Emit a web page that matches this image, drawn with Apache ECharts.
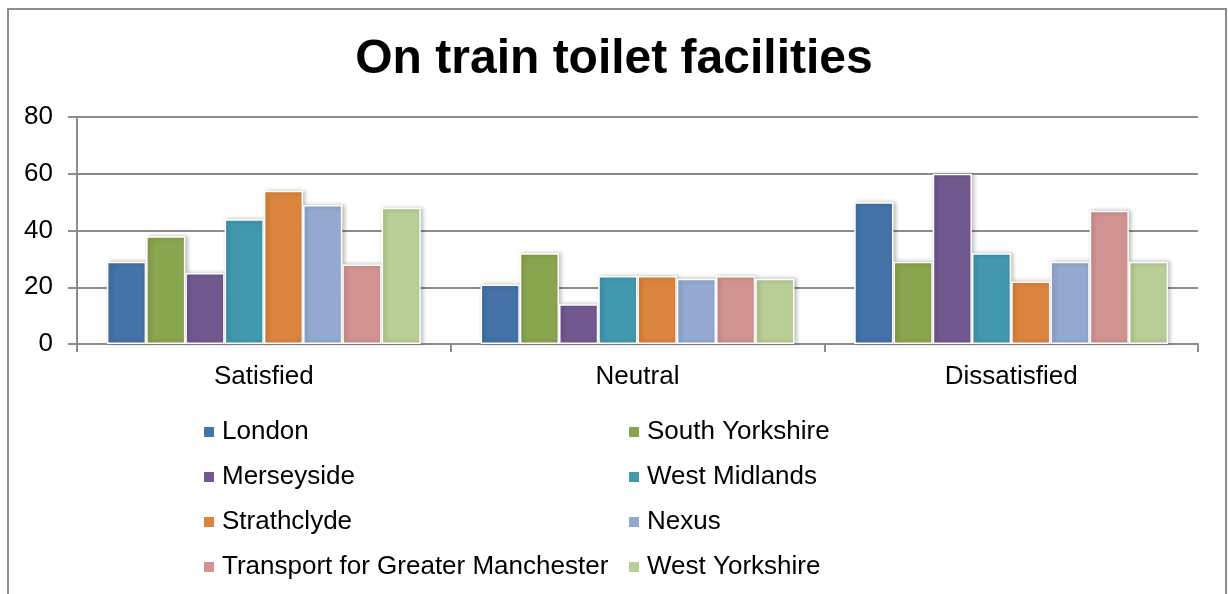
<!DOCTYPE html>
<html>
<head>
<meta charset="utf-8">
<title>On train toilet facilities</title>
<script src="https://cdn.jsdelivr.net/npm/echarts@6/dist/echarts.min.js"></script>
<style>
  html, body { margin: 0; padding: 0; background: #fff; overflow: hidden; }
  #chart { width: 1228px; height: 594px; }
</style>
</head>
<body>
<div id="chart"></div>
<script>
// categories on the x axis
const categories = ['Satisfied', 'Neutral', 'Dissatisfied']

// one array per area, values for Satisfied / Neutral / Dissatisfied
const london = [29, 21, 50]
const southYorkshire = [38, 32, 29]
const merseyside = [25, 14, 60]
const westMidlands = [44, 24, 32]
const strathclyde = [54, 24, 22]
const nexus = [49, 23, 29]
const greaterManchester = [28, 24, 47]
const westYorkshire = [48, 23, 29]

const yTicks = { min: 0, max: 80, interval: 20 }

const seriesList = [
  { name: 'London', data: london, color: '#4572a7' },
  { name: 'South Yorkshire', data: southYorkshire, color: '#89a54e' },
  { name: 'Merseyside', data: merseyside, color: '#71588f' },
  { name: 'West Midlands', data: westMidlands, color: '#4198af' },
  { name: 'Strathclyde', data: strathclyde, color: '#db843d' },
  { name: 'Nexus', data: nexus, color: '#93a9cf' },
  { name: 'Transport for Greater Manchester', data: greaterManchester, color: '#d19392' },
  { name: 'West Yorkshire', data: westYorkshire, color: '#b9cd96' }
]

const font = '"Liberation Sans", Arial, sans-serif'
const axisGrey = '#8c8c8c'

const chart = echarts.init(document.getElementById('chart'))

const series = seriesList.map(s => ({
  name: s.name,
  type: 'bar',
  data: s.data,
  barGap: '0%',
  barCategoryGap: '16%',
  itemStyle: {
    color: s.color,
    borderColor: '#fff',
    borderWidth: 1.5,
    shadowBlur: 4,
    shadowColor: 'rgba(0,0,0,0.25)',
    shadowOffsetX: 2,
    shadowOffsetY: 0
  }
}))

const legendText = { fontFamily: font, fontSize: 26, color: '#000', padding: [0, 0, 0, 2] }

const option = {
  animation: false,
  backgroundColor: '#fff',
  graphic: [{
    type: 'rect',
    silent: true,
    shape: { x: 8, y: 9, width: 1218, height: 700 },
    style: { fill: 'none', stroke: axisGrey, lineWidth: 2 }
  }],
  title: {
    text: 'On train toilet facilities',
    left: 'center',
    top: 36,
    padding: 0,
    textStyle: { fontFamily: font, fontSize: 48, fontWeight: 'bold', color: '#000' }
  },
  legend: [{
    data: ['London', 'Merseyside', 'Strathclyde', 'Transport for Greater Manchester'],
    orient: 'vertical',
    left: 202,
    top: 419,
    padding: 0,
    itemWidth: 12,
    itemHeight: 12,
    itemGap: 19,
    icon: 'rect',
    textStyle: legendText
  }, {
    data: ['South Yorkshire', 'West Midlands', 'Nexus', 'West Yorkshire'],
    orient: 'vertical',
    left: 627,
    top: 419,
    padding: 0,
    itemWidth: 12,
    itemHeight: 12,
    itemGap: 19,
    icon: 'rect',
    textStyle: legendText
  }],
  grid: { left: 77, right: 30, top: 117, bottom: 250, containLabel: false },
  xAxis: {
    type: 'category',
    data: categories,
    axisLine: { lineStyle: { color: axisGrey, width: 2 } },
    axisTick: { show: true, length: 8, alignWithLabel: false, lineStyle: { color: axisGrey, width: 2 } },
    axisLabel: { fontFamily: font, fontSize: 26, color: '#000', margin: 20 }
  },
  yAxis: {
    type: 'value',
    min: yTicks.min,
    max: yTicks.max,
    interval: yTicks.interval,
    axisLine: { show: true, lineStyle: { color: axisGrey, width: 2 } },
    axisTick: { show: true, length: 9, lineStyle: { color: axisGrey, width: 2 } },
    axisLabel: { fontFamily: font, fontSize: 26, color: '#000', margin: 24 },
    splitLine: { lineStyle: { color: axisGrey, width: 2 } }
  },
  series
}

chart.setOption(option)
</script>
</body>
</html>
